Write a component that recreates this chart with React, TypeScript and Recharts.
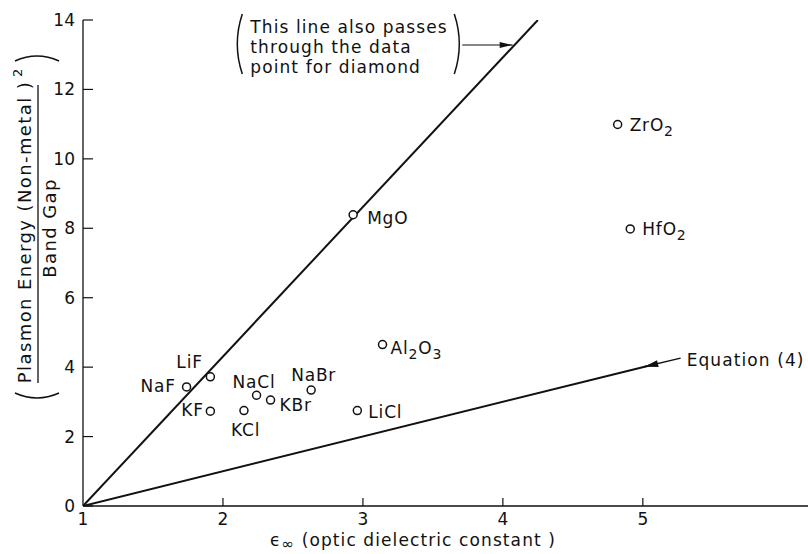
import React from 'react'
import {
  ComposedChart,
  Line,
  Scatter,
  XAxis,
  YAxis,
  ReferenceLine,
} from 'recharts'

// compounds and their read-off values
const compounds = ['LiF', 'NaF', 'KF', 'NaCl', 'KCl', 'KBr', 'NaBr', 'LiCl', 'MgO', 'Al2O3', 'ZrO2', 'HfO2']
const epsInf = [1.91, 1.74, 1.91, 2.24, 2.15, 2.34, 2.63, 2.96, 2.93, 3.14, 4.82, 4.91]
const ratio = [3.72, 3.43, 2.73, 3.19, 2.75, 3.05, 3.34, 2.75, 8.39, 4.65, 10.99, 7.98]

// the two straight lines
const fitLineX = [1, 4.25]
const fitLineY = [0, 14]
const eq4LineX = [1, 5.1]
const eq4LineY = [0, 4.1]

// annotation arrows (tail -> head)
const diamondArrowX = [3.71, 4.07]
const diamondArrowY = [13.28, 13.28]
const eqArrowX = [5.27, 5.01]
const eqArrowY = [4.26, 4.01]

const xTicks = [1, 2, 3, 4, 5]
const yTicks = [0, 2, 4, 6, 8, 10, 12, 14]

const points = compounds.map((name, i) => ({ name, x: epsInf[i], y: ratio[i] }))
const fitLine = fitLineX.map((x, i) => ({ x, y: fitLineY[i] }))
const eq4Line = eq4LineX.map((x, i) => ({ x, y: eq4LineY[i] }))

const FONT = '"DejaVu Sans", sans-serif'
const INK = '#111'

// where each label sits relative to its marker: [dx, dy of baseline]
const labelOffset: Record<string, [number, number]> = {
  LiF: [-34, -9],
  NaF: [-46, 5],
  KF: [-29, 5],
  NaCl: [-24, -7],
  KCl: [-13, 25],
  KBr: [9, 11],
  NaBr: [-20, -9],
  LiCl: [11, 7],
  MgO: [14, 9],
  Al2O3: [8, 9],
  ZrO2: [12, 7],
  HfO2: [12, 6],
}

function formula(name: string) {
  const parts: React.ReactNode[] = []
  let sub = false
  name.split('').forEach((ch, i) => {
    const isDigit = /\d/.test(ch)
    if (isDigit && !sub) {
      parts.push(<tspan key={i} dy={5} fontSize={14}>{ch}</tspan>)
      sub = true
    } else if (!isDigit && sub) {
      parts.push(<tspan key={i} dy={-5}>{ch}</tspan>)
      sub = false
    } else {
      parts.push(<tspan key={i}>{ch}</tspan>)
    }
  })
  return parts
}

const PointShape = (props: any) => {
  const { cx, cy, payload } = props
  const [dx, dy] = labelOffset[payload.name] || [10, 6]
  return (
    <g>
      <circle cx={cx} cy={cy} r={4} fill="#fff" stroke={INK} strokeWidth={1.5} />
      <text x={cx + dx} y={cy + dy} fontSize={17} letterSpacing={0.8} fontFamily={FONT} fill={INK}>
        {formula(payload.name)}
      </text>
    </g>
  )
}

function arrowHead(x1: number, y1: number, x2: number, y2: number, len: number, half: number) {
  const a = Math.atan2(y2 - y1, x2 - x1)
  const bx = x2 - len * Math.cos(a)
  const by = y2 - len * Math.sin(a)
  const px = -Math.sin(a) * half
  const py = Math.cos(a) * half
  return `${x2},${y2} ${bx + px},${by + py} ${bx - px},${by - py}`
}

const DiamondArrow = (props: any) => {
  const { x1, y1, x2, y2 } = props
  const tx = x1 - 212
  return (
    <g>
      <line x1={x1} y1={y1} x2={x2} y2={y2} stroke={INK} strokeWidth={1.2} />
      <polygon points={arrowHead(x1, y1, x2, y2, 13, 3)} fill={INK} />
      <path d={`M ${x1 - 8} ${y1 - 31} Q ${x1 + 2} ${y1 - 1} ${x1 - 8} ${y1 + 29}`} fill="none" stroke={INK} strokeWidth={1.5} />
      <path d={`M ${x1 - 220} ${y1 - 31} Q ${x1 - 230} ${y1 - 1} ${x1 - 220} ${y1 + 29}`} fill="none" stroke={INK} strokeWidth={1.5} />
      <text fontSize={17} letterSpacing={1.1} fontFamily={FONT} fill={INK}>
        <tspan x={tx} y={y1 - 12}>This line also passes</tspan>
        <tspan x={tx} y={y1 + 8}>through the data</tspan>
        <tspan x={tx} y={y1 + 28}>point for diamond</tspan>
      </text>
    </g>
  )
}

const EquationArrow = (props: any) => {
  const { x1, y1, x2, y2 } = props
  return (
    <g>
      <line x1={x1} y1={y1} x2={x2} y2={y2} stroke={INK} strokeWidth={1.5} />
      <polygon points={arrowHead(x1, y1, x2, y2, 14, 3.5)} fill={INK} />
      <text x={x1 + 6} y={y1 + 8} fontSize={17} letterSpacing={1.1} fontFamily={FONT} fill={INK}>
        Equation (4)
      </text>
    </g>
  )
}

const XTick = (props: any) => {
  const { x, y, payload } = props
  return (
    <g>
      {payload.value !== 1 && <line x1={x} x2={x} y1={y} y2={y - 8} stroke={INK} strokeWidth={1.2} />}
      <text x={x} y={y + 19} textAnchor="middle" fontSize={17} fontFamily={FONT} fill={INK}>
        {payload.value}
      </text>
    </g>
  )
}

const YTick = (props: any) => {
  const { x, y, payload } = props
  return (
    <g>
      <line x1={x} x2={x + 10} y1={y} y2={y} stroke={INK} strokeWidth={1.2} />
      <text x={x - 8} y={y + 6} textAnchor="end" fontSize={17} fontFamily={FONT} fill={INK}>
        {payload.value}
      </text>
    </g>
  )
}

const YLabel = (props: any) => {
  const vb = props.viewBox || { x: 0, y: 20 }
  const cx = vb.x + 37
  const cy = vb.y + 208
  const half = 163
  return (
    <g transform={`translate(${cx},${cy}) rotate(-90)`} fontFamily={FONT} fill={INK}>
      <text x={-4} y={-6} textAnchor="middle" fontSize={18} letterSpacing={1.4}>
        Plasmon Energy (Non-metal )
      </text>
      <text x={half - 12} y={-15} fontSize={13}>2</text>
      <line x1={-half + 8} x2={half - 20} y1={1} y2={1} stroke={INK} strokeWidth={1.3} />
      <text x={0} y={19} textAnchor="middle" fontSize={18} letterSpacing={1.4}>
        Band Gap
      </text>
      <path d={`M ${-half - 2} -22 Q ${-half - 12} 0 ${-half - 2} 22`} fill="none" stroke={INK} strokeWidth={1.5} />
      <path d={`M ${half + 4} -22 Q ${half + 14} 0 ${half + 4} 22`} fill="none" stroke={INK} strokeWidth={1.5} />
    </g>
  )
}

const XLabel = (props: any) => {
  const vb = props.viewBox || { x: 83, y: 506 }
  return (
    <text x={vb.x + 187} y={vb.y + 40} fontSize={17} letterSpacing={1.1} fontFamily={FONT} fill={INK}>
      <tspan>ϵ</tspan>
      <tspan dy={3} fontSize={15}>∞</tspan>
      <tspan dy={-3}> (optic dielectric constant )</tspan>
    </text>
  )
}

export default function App() {
  return (
    <div style={{ position: 'absolute', left: 0, top: 0, background: '#fff' }}>
      <ComposedChart width={808} height={554} margin={{ top: 20, right: 0, bottom: 0, left: 0 }}>
        <XAxis
          type="number"
          dataKey="x"
          domain={[1, 6.18]}
          ticks={xTicks}
          allowDataOverflow
          height={48}
          tick={<XTick />}
          tickLine={false}
          tickSize={0}
          tickMargin={0}
          axisLine={{ stroke: INK, strokeWidth: 1.3 }}
          label={(p: any) => <XLabel {...p} />}
        />
        <YAxis
          type="number"
          dataKey="y"
          domain={[0, 14]}
          ticks={yTicks}
          allowDataOverflow
          width={83}
          tick={<YTick />}
          tickLine={false}
          tickSize={0}
          tickMargin={0}
          axisLine={{ stroke: INK, strokeWidth: 1.3 }}
          label={(p: any) => <YLabel {...p} />}
        />
        <Line data={fitLine} dataKey="y" type="linear" dot={false} stroke={INK} strokeWidth={2} isAnimationActive={false} />
        <Line data={eq4Line} dataKey="y" type="linear" dot={false} stroke={INK} strokeWidth={2} isAnimationActive={false} />
        <ReferenceLine
          segment={[
            { x: diamondArrowX[0], y: diamondArrowY[0] },
            { x: diamondArrowX[1], y: diamondArrowY[1] },
          ]}
          ifOverflow="visible"
          shape={(p: any) => <DiamondArrow {...p} />}
        />
        <ReferenceLine
          segment={[
            { x: eqArrowX[0], y: eqArrowY[0] },
            { x: eqArrowX[1], y: eqArrowY[1] },
          ]}
          ifOverflow="visible"
          shape={(p: any) => <EquationArrow {...p} />}
        />
        <Scatter data={points} dataKey="y" shape={PointShape} isAnimationActive={false} />
      </ComposedChart>
    </div>
  )
}
